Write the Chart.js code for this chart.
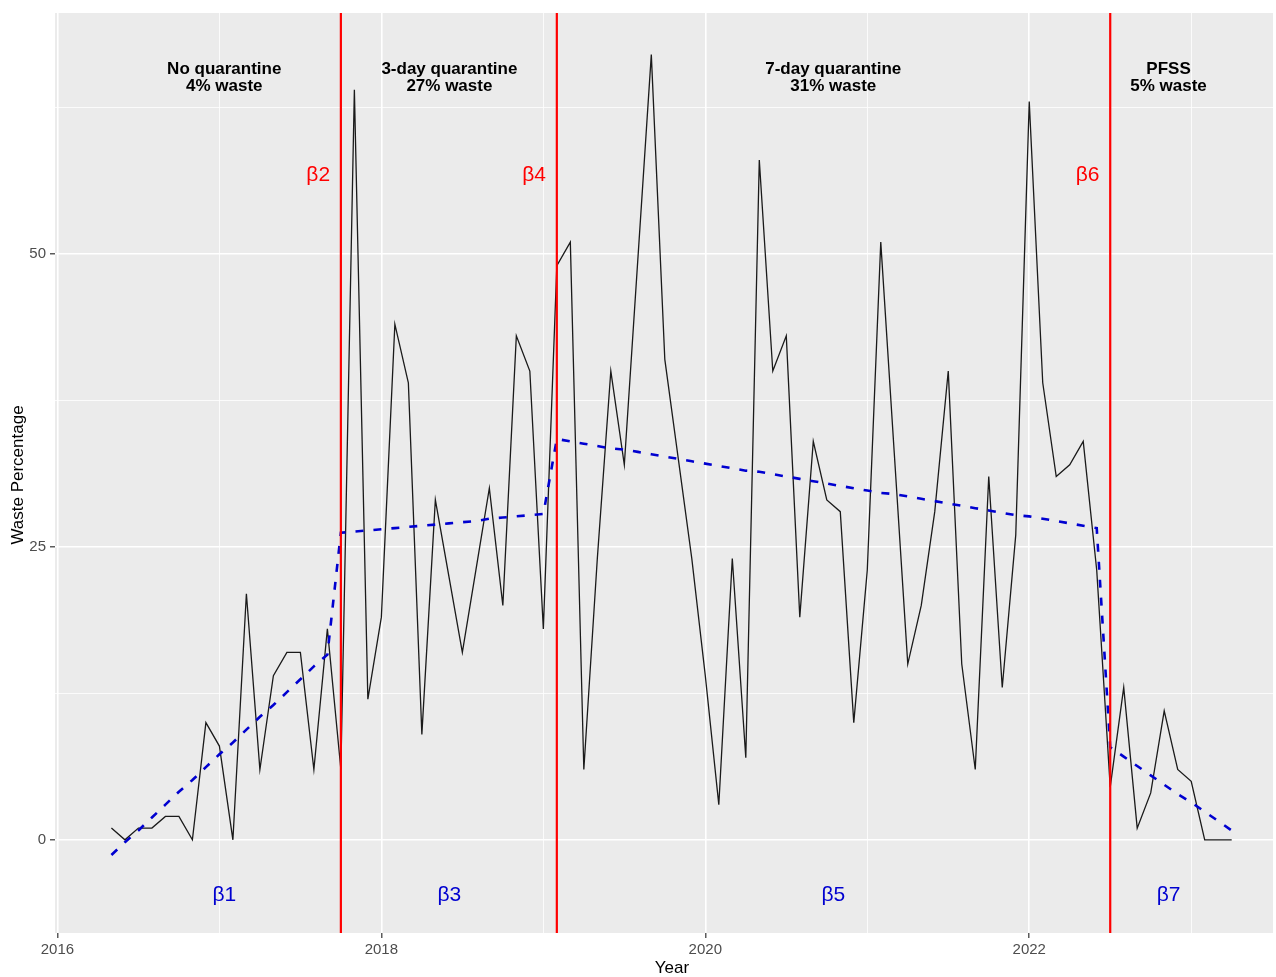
<!DOCTYPE html>
<html>
<head>
<meta charset="utf-8">
<title>Waste percentage by quarantine period</title>
<script src="https://cdn.jsdelivr.net/npm/chart.js@4"></script>
<style>
  html, body { margin: 0; padding: 0; background: #fff; }
  #wrap { width: 1276px; height: 977px; }
</style>
</head>
<body>
<div id="wrap"><canvas id="wasteChart" width="1276" height="977"></canvas></div>
<script>
// monthly waste % (black) and the segmented regression fit (blue dashes)
const months = [
  '2016-05','2016-06','2016-07','2016-08','2016-09','2016-10','2016-11','2016-12',
  '2017-01','2017-02','2017-03','2017-04','2017-05','2017-06','2017-07','2017-08','2017-09','2017-10','2017-11','2017-12',
  '2018-01','2018-02','2018-03','2018-04','2018-05','2018-06','2018-07','2018-08','2018-09','2018-10','2018-11','2018-12',
  '2019-01','2019-02','2019-03','2019-04','2019-05','2019-06','2019-07','2019-08','2019-09','2019-10','2019-11','2019-12',
  '2020-01','2020-02','2020-03','2020-04','2020-05','2020-06','2020-07','2020-08','2020-09','2020-10','2020-11','2020-12',
  '2021-01','2021-02','2021-03','2021-04','2021-05','2021-06','2021-07','2021-08','2021-09','2021-10','2021-11','2021-12',
  '2022-01','2022-02','2022-03','2022-04','2022-05','2022-06','2022-07','2022-08','2022-09','2022-10','2022-11','2022-12',
  '2023-01','2023-02','2023-03','2023-04'
];

const wastePct = [
  1, 0, 1, 1, 2, 2, 0, 10,
  8, 0, 21, 6, 14, 16, 16, 6, 18, 6, 64, 12,
  19, 44, 39, 9, 29, 22.5, 16, 23, 30, 20, 43, 40,
  18, 49, 51, 6, 24, 40, 32, 49.5, 67, 41, 32.5, 24,
  14, 3, 24, 7, 58, 40, 43, 19, 34, 29, 28, 10,
  23, 51, 33, 15, 20, 28, 40, 15, 6, 31, 13, 26,
  63, 39, 31, 32, 34, 23, 4.5, 13, 1, 4, 11, 6,
  5, 0, 0, 0
];

const fittedPct = [
  -1.3, -0.2, 0.8, 1.9, 3.0, 4.1, 5.1, 6.2,
  7.3, 8.3, 9.4, 10.5, 11.5, 12.6, 13.7, 14.8, 15.8, 26.2, 26.3, 26.4,
  26.5, 26.6, 26.7, 26.8, 26.9, 27.0, 27.1, 27.2, 27.4, 27.5, 27.6, 27.7,
  27.8, 34.2, 34.0, 33.8, 33.6, 33.4, 33.3, 33.1, 32.9, 32.7, 32.5, 32.3,
  32.1, 31.9, 31.7, 31.5, 31.4, 31.2, 31.0, 30.8, 30.6, 30.4, 30.2, 30.0,
  29.8, 29.6, 29.5, 29.3, 29.1, 28.9, 28.7, 28.5, 28.3, 28.1, 27.9, 27.7,
  27.6, 27.4, 27.2, 27.0, 26.8, 26.6, 7.9, 7.1, 6.3, 5.5, 4.7, 3.9,
  3.2, 2.4, 1.6, 0.8
];

const breakMonths = ['2017-10', '2019-02', '2022-07'];
const breakLabels = ['β2', 'β4', 'β6'];

const phaseNames = ['No quarantine', '3-day quarantine', '7-day quarantine', 'PFSS'];
const phaseWaste = ['4% waste', '27% waste', '31% waste', '5% waste'];
const phaseSlopeLabels = ['β1', 'β3', 'β5', 'β7'];
const phaseCentres = [2017.03, 2018.42, 2020.79, 2022.86]; // year at which each phase's text is centred

const xGridYears = [2016, 2017, 2018, 2019, 2020, 2021, 2022, 2023];
const xLabelYears = [2016, 2018, 2020, 2022];
const yGridValues = [0, 12.5, 25, 37.5, 50, 62.5];
const yLabelValues = [0, 25, 50];

const FONT = '"Liberation Sans", Arial, sans-serif';
const RED = '#FF0000';
const BLUE = '#0000D0';

function monthToYear(s) {
  const [y, m] = s.split('-').map(Number);
  return y + (m - 1) / 12;
}

const wastePoints = months.map((m, i) => ({ x: monthToYear(m), y: wastePct[i] }));
const fittedPoints = months.map((m, i) => ({ x: monthToYear(m), y: fittedPct[i] }));

const isMajor = (list, c) => !!(c.tick && list.includes(c.tick.value));

const panelPlugin = {
  id: 'panel',
  beforeDraw(chart) {
    const { ctx, chartArea: a } = chart;
    ctx.save();
    ctx.fillStyle = '#EBEBEB';
    ctx.fillRect(a.left, a.top, a.right - a.left, a.bottom - a.top);
    ctx.restore();
  },
  afterDatasetsDraw(chart) {
    const { ctx, chartArea: a, scales: { x, y } } = chart;
    ctx.save();

    // interruption lines
    ctx.strokeStyle = RED;
    ctx.lineWidth = 2.2;
    breakMonths.forEach(m => {
      const px = x.getPixelForValue(monthToYear(m));
      ctx.beginPath();
      ctx.moveTo(px, a.top);
      ctx.lineTo(px, a.bottom);
      ctx.stroke();
    });

    ctx.textAlign = 'center';
    ctx.textBaseline = 'middle';

    // red level-change labels, just left of each break
    ctx.fillStyle = RED;
    ctx.font = '21px ' + FONT;
    breakMonths.forEach((m, i) => {
      ctx.fillText(breakLabels[i], x.getPixelForValue(monthToYear(m) - 0.14), y.getPixelForValue(56.75));
    });

    // phase headings and slope labels
    phaseNames.forEach((name, i) => {
      const px = x.getPixelForValue(phaseCentres[i]);
      const py = y.getPixelForValue(65);
      ctx.fillStyle = '#000';
      ctx.font = 'bold 17px ' + FONT;
      ctx.fillText(name, px, py - 8.6);
      ctx.fillText(phaseWaste[i], px, py + 8.7);
      ctx.fillStyle = BLUE;
      ctx.font = '21px ' + FONT;
      ctx.fillText(phaseSlopeLabels[i], px, y.getPixelForValue(-4.75));
    });
    ctx.restore();
  },
  afterDraw(chart) {
    const { ctx } = chart;
    ctx.save();
    ctx.fillStyle = '#000';
    ctx.font = '17px ' + FONT;
    ctx.textAlign = 'center';
    ctx.textBaseline = 'middle';
    ctx.fillText('Year', 672, 968);
    ctx.translate(18, 475);
    ctx.rotate(-Math.PI / 2);
    ctx.fillText('Waste Percentage', 0, 0);
    ctx.restore();
  }
};

new Chart(document.getElementById('wasteChart'), {
  type: 'line',
  data: {
    datasets: [
      {
        label: 'Fitted',
        data: fittedPoints,
        borderColor: BLUE,
        borderWidth: 2.6,
        borderDash: [8, 10],
        pointRadius: 0,
        tension: 0,
        fill: false,
        order: 0
      },
      {
        label: 'Waste %',
        data: wastePoints,
        borderColor: '#1A1A1A',
        borderWidth: 1.3,
        pointRadius: 0,
        tension: 0,
        fill: false,
        order: 1
      }
    ]
  },
  options: {
    responsive: false,
    animation: false,
    layout: { padding: { top: 13, right: 3, bottom: 0, left: 0 } },
    plugins: { legend: { display: false }, tooltip: { enabled: false } },
    scales: {
      x: {
        type: 'linear',
        min: 2015.985,
        max: 2023.505,
        afterBuildTicks: s => { s.ticks = xGridYears.map(v => ({ value: v })); },
        afterFit: s => { s.height = 44; },
        border: { display: false },
        grid: {
          color: '#FFFFFF',
          lineWidth: c => isMajor(xLabelYears, c) ? 1.6 : 0.8,
          tickColor: c => isMajor(xLabelYears, c) ? '#333333' : 'rgba(0,0,0,0)',
          tickLength: 5,
          tickWidth: 1.2
        },
        ticks: {
          autoSkip: false,
          maxRotation: 0,
          padding: 3,
          color: '#4D4D4D',
          font: { family: FONT, size: 15 },
          callback: v => xLabelYears.includes(v) ? String(v) : ''
        }
      },
      y: {
        min: -7.95,
        max: 70.55,
        afterBuildTicks: s => { s.ticks = yGridValues.map(v => ({ value: v })); },
        afterFit: s => { s.width = 55; },
        border: { display: false },
        grid: {
          color: '#FFFFFF',
          lineWidth: c => isMajor(yLabelValues, c) ? 1.6 : 0.8,
          tickColor: c => isMajor(yLabelValues, c) ? '#333333' : 'rgba(0,0,0,0)',
          tickLength: 5,
          tickWidth: 1.2
        },
        ticks: {
          padding: 4,
          color: '#4D4D4D',
          font: { family: FONT, size: 15 },
          callback: v => yLabelValues.includes(v) ? String(v) : ''
        }
      }
    }
  },
  plugins: [panelPlugin]
});
</script>
</body>
</html>
